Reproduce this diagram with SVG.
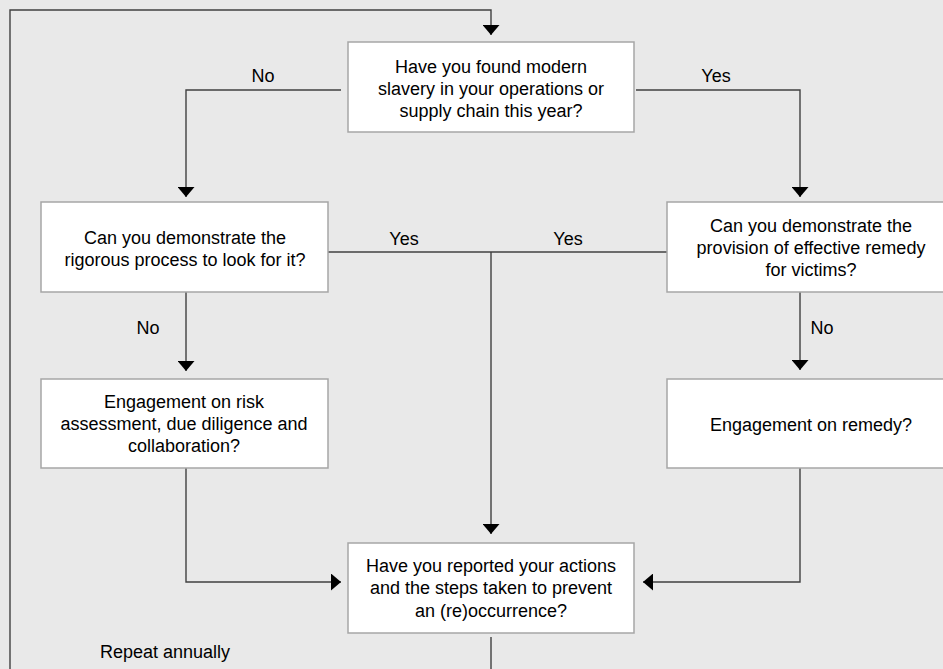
<svg xmlns="http://www.w3.org/2000/svg" width="943" height="669" viewBox="0 0 943 669">
<defs>
<marker id="arr" viewBox="0 -8.5 10 17" refX="10" refY="0" markerWidth="10" markerHeight="17" markerUnits="userSpaceOnUse" orient="auto">
<path d="M0,-8.5 L10,0 L0,8.5 z" fill="#000"/>
</marker>
<style>
.box{fill:#fff;stroke:#a6a6a6;stroke-width:1.5}
.ln{fill:none;stroke:#404040;stroke-width:1.4}
text{font-family:"Liberation Sans",Arial,sans-serif;font-size:18px;fill:#000;text-anchor:middle}
</style>
</defs>
<rect width="943" height="669" fill="#e9e9e9"/>
<g id="connectors">
<path class="ln" d="M10,669 V10 H491 V35" marker-end="url(#arr)"/>
<path class="ln" d="M341,90 H186 V197" marker-end="url(#arr)"/>
<path class="ln" d="M636,90 H800 V197" marker-end="url(#arr)"/>
<path class="ln" d="M328,252 H667"/>
<path class="ln" d="M491,252 V534" marker-end="url(#arr)"/>
<path class="ln" d="M186,292 V371" marker-end="url(#arr)"/>
<path class="ln" d="M800,292 V370" marker-end="url(#arr)"/>
<path class="ln" d="M186,468 V582 H341" marker-end="url(#arr)"/>
<path class="ln" d="M800,468 V582 H643" marker-end="url(#arr)"/>
<path class="ln" d="M491,637 V669"/>
<text x="263" y="82">No</text>
<text x="716" y="82">Yes</text>
<text x="404" y="245">Yes</text>
<text x="568" y="245">Yes</text>
<text x="148" y="334">No</text>
<text x="822" y="334">No</text>
<text x="165" y="658">Repeat annually</text>
</g>
<g id="q-found">
<rect class="box" x="348" y="42" width="286" height="90"/>
<text x="491" y="73">Have you found modern</text>
<text x="491" y="95">slavery in your operations or</text>
<text x="491" y="117">supply chain this year?</text>
</g>
<g id="q-process">
<rect class="box" x="41" y="202" width="287" height="90"/>
<text x="185" y="244">Can you demonstrate the</text>
<text x="185" y="266">rigorous process to look for it?</text>
</g>
<g id="q-remedy">
<rect class="box" x="667" y="202" width="288" height="90"/>
<text x="811" y="232">Can you demonstrate the</text>
<text x="811" y="254">provision of effective remedy</text>
<text x="811" y="276">for victims?</text>
</g>
<g id="engage-risk">
<rect class="box" x="41" y="379" width="287" height="89"/>
<text x="184" y="408">Engagement on risk</text>
<text x="184" y="430">assessment, due diligence and</text>
<text x="184" y="452">collaboration?</text>
</g>
<g id="engage-remedy">
<rect class="box" x="667" y="379" width="288" height="89"/>
<text x="811" y="431">Engagement on remedy?</text>
</g>
<g id="q-reported">
<rect class="box" x="348" y="543" width="286" height="90"/>
<text x="491" y="572">Have you reported your actions</text>
<text x="491" y="594">and the steps taken to prevent</text>
<text x="491" y="617">an (re)occurrence?</text>
</g>
</svg>
